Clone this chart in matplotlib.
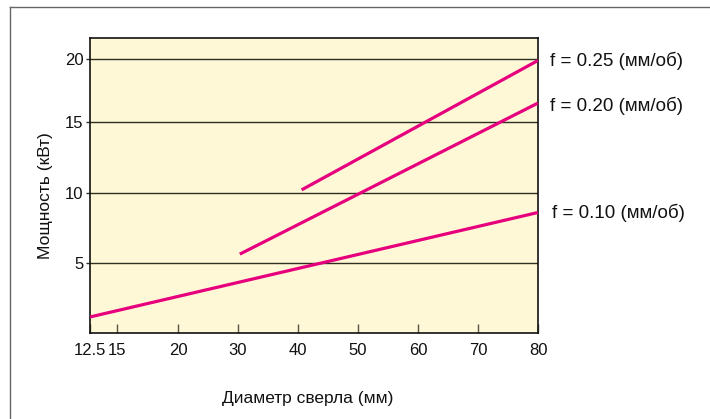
import numpy as np
import matplotlib
matplotlib.use("Agg")
import matplotlib.pyplot as plt
from matplotlib.lines import Line2D

plt.rcParams['font.family'] = ['Liberation Sans', 'DejaVu Sans']

# ---- data ----
x_ticks = [12.5, 15, 20, 30, 40, 50, 60, 70, 80]
x_tick_labels = ["12.5", "15", "20", "30", "40", "50", "60", "70", "80"]
y_ticks = [5, 10, 15, 20]
y_tick_labels = ["5", "10", "15", "20"]

series_labels = ["f = 0.25 (мм/об)", "f = 0.20 (мм/об)", "f = 0.10 (мм/об)"]
series_x = [[40.6, 80], [30.3, 80], [12.5, 80]]
series_y = [[10.2, 19.9], [5.65, 16.5], [1.15, 8.6]]

xlabel = "Диаметр сверла (мм)"
ylabel = "Мощность (кВт)"

# ---- non-uniform scale breakpoints (as drawn in the original) ----
x_break_val = np.array([12.5, 15, 20, 30, 80])
x_break_pos = np.array([0.0, 27.0, 88.0, 148.0, 448.0])
y_break_val = np.array([0, 5, 10, 15, 20, 25])
y_break_pos = np.array([0.0, 69.8, 140.5, 211.5, 274.2, 336.9])


def fx(v):
    return np.interp(v, x_break_val, x_break_pos, left=-1e3, right=1e4)


def fxi(p):
    return np.interp(p, x_break_pos, x_break_val)


def fy(v):
    return np.interp(v, y_break_val, y_break_pos, left=-1e3, right=1e4)


def fyi(p):
    return np.interp(p, y_break_pos, y_break_val)


fig = plt.figure(figsize=(7.1, 4.19), dpi=100)
ax = fig.add_axes([90 / 710, 1 - 333 / 419, 448 / 710, (333 - 38.3) / 419])
ax.set_xscale('function', functions=(fx, fxi))
ax.set_yscale('function', functions=(fy, fyi))
ax.set_xlim(12.5, 80)
ax.set_ylim(0, 21.67)
ax.set_facecolor("#FEF8D6")

for yt in y_ticks:
    ax.axhline(yt, color="#2f2f22", lw=1.0, zorder=1)

line_color = "#E6007E"
offsets = [(12, 0), (12, -2.5), (14, 0)]
for lab, xs, ys, off in zip(series_labels, series_x, series_y, offsets):
    ax.plot(xs, ys, color=line_color, lw=2.3, solid_capstyle='butt', zorder=3)
    ax.annotate(lab, xy=(xs[-1], ys[-1]), xytext=off, textcoords='offset pixels',
                ha='left', va='center', fontsize=13.5, color="#111111",
                annotation_clip=False)

ax.set_xticks(x_ticks)
ax.set_xticklabels(x_tick_labels)
ax.set_yticks(y_ticks)
ax.set_yticklabels(y_tick_labels)
ax.minorticks_off()
ax.tick_params(axis='x', direction='in', length=6.5, width=1.0, color="#555544",
               labelsize=12, pad=7, labelcolor="#111111")
ax.tick_params(axis='y', direction='out', length=3, width=1.0, color="#2f2f22",
               labelsize=12, pad=1.5, labelcolor="#111111")

for s in ax.spines.values():
    s.set_color("#111111")
    s.set_linewidth(1.2)

ax.set_xlabel(xlabel, fontsize=12.5, color="#111111")
ax.xaxis.set_label_coords(0.487, -0.196)
ax.set_ylabel(ylabel, fontsize=12.5, color="#111111")
ax.yaxis.set_label_coords(-0.10, 0.465)
ax.yaxis.label.set_va('center')

# outer frame (top and left lines)
fig.add_artist(Line2D([10 / 710, 1.0], [1 - 7.3 / 419, 1 - 7.3 / 419],
                      transform=fig.transFigure, color="#666666", lw=1.0))
fig.add_artist(Line2D([10 / 710, 10 / 710], [0.0, 1 - 7.3 / 419],
                      transform=fig.transFigure, color="#666666", lw=1.0))

fig.savefig("out.png", dpi=100)
